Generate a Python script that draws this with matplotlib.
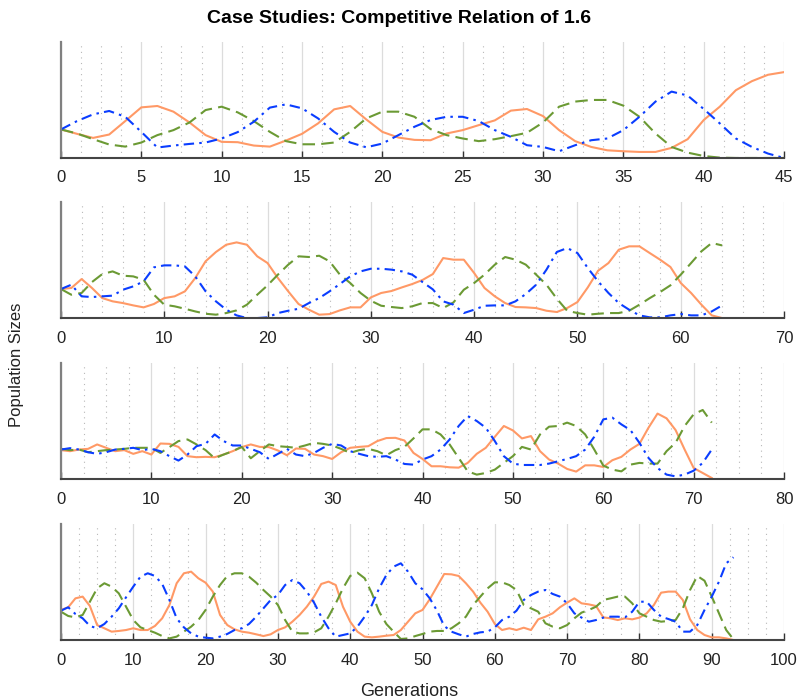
import numpy as np
import matplotlib.pyplot as plt
from matplotlib.ticker import MultipleLocator

plt.rcParams['font.family'] = ['Liberation Sans', 'DejaVu Sans']

# population shares per generation, three species, four runs
orange1 = [0.246, 0.208, 0.173, 0.202, 0.318, 0.436, 0.448, 0.399, 0.306, 0.197,
           0.139, 0.136, 0.107, 0.098, 0.150, 0.208, 0.298, 0.419, 0.448, 0.332,
           0.225, 0.176, 0.156, 0.153, 0.211, 0.240, 0.283, 0.324, 0.408, 0.422,
           0.361, 0.240, 0.145, 0.095, 0.066, 0.058, 0.052, 0.052, 0.087, 0.162,
           0.327, 0.442, 0.584, 0.662, 0.717, 0.740]
green1 = [0.246, 0.211, 0.162, 0.116, 0.098, 0.133, 0.197, 0.240, 0.306, 0.413,
          0.442, 0.393, 0.318, 0.225, 0.145, 0.118, 0.118, 0.133, 0.225, 0.341,
          0.399, 0.399, 0.355, 0.249, 0.197, 0.168, 0.145, 0.162, 0.188, 0.217,
          0.306, 0.442, 0.486, 0.500, 0.500, 0.451, 0.355, 0.211, 0.095, 0.046,
          0.017, 0.003, 0.0, 0.0, 0.0, 0.0]
blue1 = [0.246, 0.318, 0.376, 0.405, 0.355, 0.225, 0.090, 0.107, 0.121, 0.133,
         0.168, 0.223, 0.312, 0.434, 0.462, 0.428, 0.341, 0.225, 0.133, 0.092,
         0.124, 0.197, 0.269, 0.327, 0.355, 0.355, 0.318, 0.240, 0.182, 0.110,
         0.095, 0.058, 0.110, 0.153, 0.168, 0.240, 0.355, 0.486, 0.572, 0.538,
         0.422, 0.298, 0.168, 0.095, 0.038, 0.0]

orange2 = [0.250, 0.259, 0.336, 0.259, 0.172, 0.144, 0.129, 0.109, 0.092, 0.121,
           0.172, 0.187, 0.230, 0.345, 0.489, 0.569, 0.632, 0.652, 0.632, 0.532,
           0.474, 0.345, 0.230, 0.121, 0.072, 0.029, 0.034, 0.066, 0.092, 0.092,
           0.178, 0.216, 0.233, 0.264, 0.293, 0.328, 0.379, 0.517, 0.503, 0.503,
           0.388, 0.259, 0.187, 0.129, 0.095, 0.092, 0.086, 0.063, 0.052, 0.086,
           0.138, 0.264, 0.408, 0.474, 0.589, 0.618, 0.618, 0.560, 0.503, 0.440,
           0.302, 0.216, 0.115, 0.023, 0.0]
green2 = [0.250, 0.201, 0.216, 0.310, 0.379, 0.402, 0.365, 0.359, 0.330, 0.201,
          0.115, 0.101, 0.080, 0.057, 0.037, 0.029, 0.043, 0.066, 0.115, 0.201,
          0.282, 0.374, 0.460, 0.532, 0.526, 0.537, 0.489, 0.374, 0.302, 0.216,
          0.149, 0.106, 0.095, 0.086, 0.101, 0.129, 0.129, 0.086, 0.135, 0.244,
          0.302, 0.374, 0.460, 0.526, 0.503, 0.460, 0.374, 0.287, 0.167, 0.063,
          0.043, 0.029, 0.037, 0.043, 0.043, 0.063, 0.115, 0.172, 0.224, 0.282,
          0.374, 0.474, 0.575, 0.647, 0.626]
blue2 = [0.250, 0.287, 0.187, 0.181, 0.187, 0.193, 0.244, 0.273, 0.316, 0.437,
         0.454, 0.454, 0.445, 0.359, 0.230, 0.144, 0.072, 0.023, 0.0, 0.0,
         0.006, 0.043, 0.063, 0.080, 0.129, 0.172, 0.230, 0.293, 0.359, 0.402,
         0.425, 0.425, 0.417, 0.402, 0.374, 0.310, 0.247, 0.144, 0.115, 0.043,
         0.072, 0.106, 0.109, 0.109, 0.144, 0.207, 0.287, 0.417, 0.569, 0.603,
         0.560, 0.431, 0.316, 0.216, 0.129, 0.072, 0.023, 0.006, 0.006, 0.023,
         0.034, 0.023, 0.023, 0.057, 0.109]

orange3 = [0.249, 0.240, 0.254, 0.260, 0.298, 0.269, 0.240, 0.249, 0.217, 0.240,
           0.211, 0.306, 0.303, 0.277, 0.197, 0.188, 0.191, 0.188, 0.211, 0.240,
           0.275, 0.298, 0.277, 0.275, 0.246, 0.205, 0.263, 0.260, 0.211, 0.197,
           0.173, 0.231, 0.269, 0.277, 0.283, 0.327, 0.353, 0.355, 0.332, 0.225,
           0.173, 0.110, 0.110, 0.101, 0.098, 0.139, 0.217, 0.269, 0.364, 0.457,
           0.419, 0.350, 0.370, 0.240, 0.168, 0.133, 0.087, 0.064, 0.118, 0.118,
           0.104, 0.162, 0.191, 0.254, 0.303, 0.442, 0.564, 0.523, 0.422, 0.254,
           0.095, 0.052, 0.009]
green3 = [0.260, 0.249, 0.254, 0.231, 0.240, 0.249, 0.254, 0.260, 0.269, 0.269,
          0.269, 0.225, 0.275, 0.327, 0.341, 0.298, 0.249, 0.179, 0.211, 0.240,
          0.277, 0.179, 0.240, 0.298, 0.283, 0.277, 0.269, 0.289, 0.312, 0.303,
          0.289, 0.260, 0.225, 0.249, 0.260, 0.240, 0.205, 0.249, 0.277, 0.350,
          0.428, 0.428, 0.384, 0.298, 0.182, 0.066, 0.038, 0.052, 0.081, 0.139,
          0.197, 0.277, 0.254, 0.384, 0.451, 0.457, 0.486, 0.457, 0.384, 0.254,
          0.116, 0.081, 0.066, 0.124, 0.139, 0.133, 0.133, 0.240, 0.312, 0.457,
          0.558, 0.595, 0.486]
blue3 = [0.254, 0.266, 0.254, 0.231, 0.217, 0.231, 0.254, 0.260, 0.269, 0.249,
         0.260, 0.240, 0.197, 0.159, 0.211, 0.283, 0.303, 0.384, 0.327, 0.289,
         0.289, 0.260, 0.231, 0.173, 0.217, 0.260, 0.211, 0.197, 0.225, 0.269,
         0.303, 0.289, 0.240, 0.217, 0.197, 0.191, 0.197, 0.168, 0.130, 0.124,
         0.168, 0.197, 0.254, 0.341, 0.457, 0.543, 0.500, 0.442, 0.327, 0.197,
         0.133, 0.121, 0.121, 0.121, 0.133, 0.153, 0.173, 0.197, 0.254, 0.364,
         0.514, 0.529, 0.471, 0.422, 0.312, 0.182, 0.095, 0.038, 0.023, 0.038,
         0.072, 0.139, 0.254]

orange4 = [0.259, 0.282, 0.359, 0.374, 0.293, 0.129, 0.101, 0.072, 0.078, 0.086,
           0.101, 0.086, 0.086, 0.121, 0.187, 0.302, 0.489, 0.575, 0.589, 0.532,
           0.494, 0.417, 0.216, 0.129, 0.092, 0.072, 0.063, 0.049, 0.034, 0.049,
           0.086, 0.109, 0.158, 0.216, 0.287, 0.374, 0.483, 0.503, 0.474, 0.287,
           0.158, 0.072, 0.029, 0.023, 0.029, 0.037, 0.043, 0.086, 0.158, 0.230,
           0.259, 0.351, 0.460, 0.569, 0.566, 0.552, 0.489, 0.417, 0.322, 0.244,
           0.138, 0.086, 0.101, 0.086, 0.106, 0.086, 0.178, 0.201, 0.230, 0.282,
           0.322, 0.359, 0.316, 0.307, 0.293, 0.195, 0.187, 0.172, 0.187, 0.178,
           0.193, 0.230, 0.302, 0.408, 0.417, 0.417, 0.345, 0.178, 0.086, 0.043,
           0.023, 0.023, 0.014, 0.0]
green4 = [0.244, 0.207, 0.195, 0.216, 0.330, 0.445, 0.489, 0.460, 0.402, 0.287,
          0.172, 0.109, 0.086, 0.063, 0.034, 0.014, 0.029, 0.072, 0.115, 0.172,
          0.259, 0.374, 0.474, 0.552, 0.575, 0.575, 0.546, 0.494, 0.431, 0.374,
          0.302, 0.172, 0.072, 0.057, 0.057, 0.066, 0.101, 0.201, 0.316, 0.445,
          0.552, 0.580, 0.532, 0.402, 0.244, 0.138, 0.072, 0.009, 0.014, 0.034,
          0.052, 0.072, 0.078, 0.078, 0.101, 0.144, 0.201, 0.302, 0.374, 0.445,
          0.497, 0.497, 0.474, 0.431, 0.302, 0.273, 0.244, 0.144, 0.115, 0.101,
          0.129, 0.187, 0.236, 0.259, 0.287, 0.345, 0.359, 0.374, 0.374, 0.316,
          0.230, 0.201, 0.172, 0.158, 0.164, 0.172, 0.273, 0.431, 0.552, 0.511,
          0.374, 0.230, 0.086, 0.006]
blue4 = [0.253, 0.282, 0.224, 0.187, 0.121, 0.101, 0.138, 0.201, 0.273, 0.368,
         0.460, 0.546, 0.575, 0.552, 0.483, 0.345, 0.187, 0.109, 0.057, 0.029,
         0.020, 0.014, 0.029, 0.052, 0.086, 0.101, 0.138, 0.201, 0.273, 0.345,
         0.388, 0.474, 0.517, 0.489, 0.417, 0.322, 0.201, 0.101, 0.029, 0.043,
         0.057, 0.115, 0.201, 0.302, 0.445, 0.560, 0.632, 0.661, 0.589, 0.489,
         0.437, 0.359, 0.253, 0.121, 0.072, 0.049, 0.029, 0.052, 0.066, 0.072,
         0.109, 0.172, 0.201, 0.253, 0.345, 0.388, 0.417, 0.431, 0.397, 0.374,
         0.316, 0.230, 0.193, 0.158, 0.172, 0.193, 0.201, 0.201, 0.195, 0.244,
         0.330, 0.330, 0.259, 0.201, 0.181, 0.158, 0.072, 0.072, 0.129, 0.259,
         0.374, 0.503, 0.661, 0.713]

runs = [(orange1, green1, blue1), (orange2, green2, blue2),
        (orange3, green3, blue3), (orange4, green4, blue4)]
x_max = [45, 70, 80, 100]
major_step = [5, 10, 10, 10]
minor_step = [1.25, 2, 2.5, 2.5]

fig = plt.figure(figsize=(7.99, 6.99), dpi=100)
left, width = 0.0763, 0.905
bottoms = [0.774, 0.545, 0.3147, 0.0844]
height = 0.166

for i, (o, g, b) in enumerate(runs):
    ax = fig.add_axes([left, bottoms[i], width, height])
    ax.plot(np.arange(len(o)), o, '-', color='#ff9966', lw=1.5)
    ax.plot(np.arange(len(g)), g, '--', color='#6b9a34', lw=1.5, dashes=(6, 3))
    ax.plot(np.arange(len(b)), b, '-.', color='#0a3dff', lw=1.5,
            dashes=(5, 2.5, 1.2, 2.5))
    ax.set_xlim(0, x_max[i])
    ax.set_ylim(0, 1)
    ax.xaxis.set_major_locator(MultipleLocator(major_step[i]))
    ax.xaxis.set_minor_locator(MultipleLocator(minor_step[i]))
    ax.grid(which='major', axis='x', color='#dcdcdc', lw=0.9, ls='-')
    ax.grid(which='minor', axis='x', color='#b8b8b8', lw=0.8, ls=(0, (1, 4)))
    ax.set_axisbelow(True)
    ax.set_yticks([])
    for s in ['top', 'right']:
        ax.spines[s].set_visible(False)
    ax.spines['left'].set_color('#808080')
    ax.spines['left'].set_linewidth(1.6)
    ax.spines['bottom'].set_color('#444444')
    ax.spines['bottom'].set_linewidth(1.5)
    ax.tick_params(axis='x', which='major', direction='in', length=5,
                   width=1, color='#333333', labelsize=12,
                   labelcolor='#222222', pad=9)
    ax.tick_params(axis='x', which='minor', length=0)

fig.suptitle('Case Studies: Competitive Relation of 1.6', y=0.985,
             fontsize=14, fontweight='bold')
fig.text(0.021, 0.478, 'Population Sizes', rotation=90, ha='center',
         va='center', fontsize=12, color='#222222')
fig.text(0.512, 0.011, 'Generations', ha='center', va='center',
         fontsize=13, color='#222222')

fig.savefig('out.png', dpi=100)
